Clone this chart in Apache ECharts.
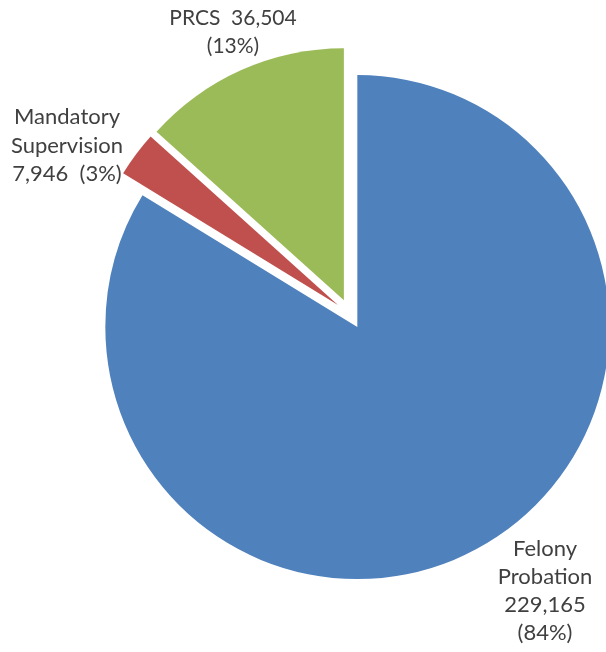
<!DOCTYPE html>
<html>
<head>
<meta charset="utf-8">
<script src="https://cdn.jsdelivr.net/npm/echarts@6/dist/echarts.min.js"></script>
<style>
html,body{margin:0;padding:0;background:#fff;}
#chart{width:606px;height:652px;}
</style>
</head>
<body>
<div id="chart"></div>
<script>
const categories = ['Felony Probation', 'Mandatory Supervision', 'PRCS'];
const values = [229165, 7946, 36504];
const colors = ['#4F81BD', '#C0504D', '#9BBB59'];

const total = values.reduce((a, b) => a + b, 0);
function fmtNum(v){ return v.toLocaleString('en-US'); }
function pct(i){ return '(' + Math.round(values[i] / total * 100) + '%)'; }

const labelTexts = [
  'Felony\nProbation\n' + fmtNum(values[0]) + '\n' + pct(0),
  'Mandatory\nSupervision\n' + fmtNum(values[1]) + '  ' + pct(1),
  'PRCS  ' + fmtNum(values[2]) + '\n' + pct(2)
];
const labelStyle = [
  { x: 545, y: 535, size: 22, lh: 28 },
  { x: 67, y: 103, size: 22, lh: 28.5 },
  { x: 233, y: 4, size: 21, lh: 28 }
];

const chart = echarts.init(document.getElementById('chart'), null, {renderer:'canvas'});
chart.setOption({
  animation: false,
  series: [{
    type: 'pie',
    center: [350, 314],
    radius: 252,
    startAngle: 90,
    clockwise: true,
    selectedMode: 'multiple',
    selectedOffset: 15,
    itemStyle: { borderWidth: 0 },
    select: { itemStyle: { borderWidth: 0 } },
    emphasis: { disabled: true },
    label: { show: false },
    labelLine: { show: false },
    data: categories.map((c, i) => ({
      name: c, value: values[i], selected: true,
      itemStyle: { color: colors[i] }
    }))
  }],
  graphic: labelTexts.map((t, i) => ({
    type: 'text',
    x: labelStyle[i].x,
    y: labelStyle[i].y,
    silent: true,
    style: {
      text: t,
      align: 'center',
      verticalAlign: 'top',
      fill: '#404040',
      fontFamily: 'Lato',
      fontSize: labelStyle[i].size,
      lineHeight: labelStyle[i].lh
    }
  }))
});
</script>
</body>
</html>
